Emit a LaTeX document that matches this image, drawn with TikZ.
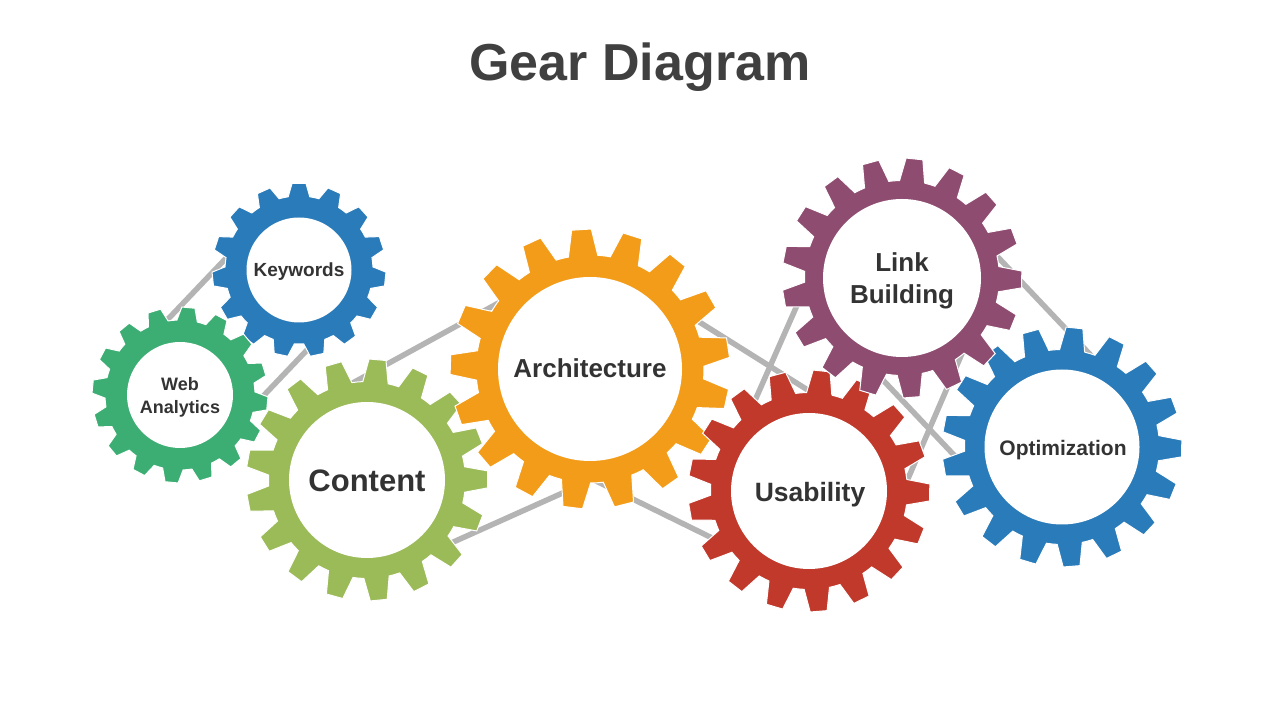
\documentclass[tikz,border=0pt]{standalone}
\usepackage{fontspec}
\setmainfont{Liberation Sans}
\usetikzlibrary{calc}
\definecolor{kwblue}{HTML}{2A7BB9}
\definecolor{wagreen}{HTML}{3DAE73}
\definecolor{ctgreen}{HTML}{9BBB59}
\definecolor{arorange}{HTML}{F39C1A}
\definecolor{usred}{HTML}{C0392B}
\definecolor{lbpurple}{HTML}{8F4C71}
\definecolor{beltgray}{HTML}{B4B4B4}
\definecolor{labelgray}{HTML}{333333}
\definecolor{titlegray}{HTML}{404040}
% #1 centre, #2 teeth, #3 tip radius, #4 root radius, #5 offset angle, #6 colour, #7 inner radius
\newcommand\drawgear[7]{%
  \begin{scope}[shift={(#1)}]
    \pgfmathsetmacro\gp{360/#2}
    \pgfmathsetmacro\gt{0.19*\gp}
    \pgfmathsetmacro\gr{0.35*\gp}
    \pgfmathtruncatemacro\gnm{#2-1}
    \fill[#6, draw=white, line width=1pt] ({#5-\gr}:#4)
      \foreach \k in {0,...,\gnm} {
        -- ({#5+\k*\gp-\gt}:#3) -- ({#5+\k*\gp+\gt}:#3) -- ({#5+\k*\gp+\gr}:#4)
        arc[start angle={#5+\k*\gp+\gr}, end angle={#5+(\k+1)*\gp-\gr}, radius=#4]
      } -- cycle;
    \fill[white] (0,0) circle[radius=#7];
  \end{scope}}
\begin{document}
\begin{tikzpicture}[x=1pt,y=1pt,
  belt/.style={draw=beltgray, line width=5.5pt},
  lbl/.style={text=labelgray, align=center, inner sep=0pt, font=\bfseries},
  titletext/.style={text=titlegray, inner sep=0pt, font=\bfseries\fontsize{52}{60}\selectfont}]
\useasboundingbox (0,0) rectangle (1280,720);
\fill[white] (0,0) rectangle (1280,720);

\coordinate (kw) at (299,450);
\coordinate (wa) at (180,325);
\coordinate (ct) at (367,240);
\coordinate (ar) at (590,351);
\coordinate (lb) at (902,442);
\coordinate (us) at (809,229);
\coordinate (op) at (1062,273);

\node[titletext] (title) at (640,652.5) {Gear Diagram};

% belts (behind the gears)
\draw[belt] ($(wa)!61pt!90:(kw)$) -- ($(kw)!61pt!-90:(wa)$);
\draw[belt] ($(wa)!61pt!-90:(kw)$) -- ($(kw)!61pt!90:(wa)$);
\draw[belt] ($(ct)!92pt!90:(ar)$) -- ($(ar)!102pt!-90:(ct)$);
\draw[belt] ($(ct)!92pt!-90:(ar)$) -- ($(ar)!102pt!90:(ct)$);
\draw[belt] ($(ar)!98pt!90:(us)$) -- ($(us)!85pt!-90:(ar)$);
\draw[belt] ($(ar)!98pt!-90:(us)$) -- ($(us)!85pt!90:(ar)$);
\draw[belt] ($(us)!86pt!90:(lb)$) -- ($(lb)!85pt!-90:(us)$);
\draw[belt] ($(us)!86pt!-90:(lb)$) -- ($(lb)!85pt!90:(us)$);
\draw[belt] ($(lb)!84pt!90:(op)$) -- ($(op)!84pt!-90:(lb)$);
\draw[belt] ($(lb)!84pt!-90:(op)$) -- ($(op)!84pt!90:(lb)$);

% gears
\drawgear{kw}{15}{87}{74}{90}{kwblue}{52.5}
\drawgear{wa}{16}{88}{75}{84.5}{wagreen}{53}
\drawgear{ct}{17}{121}{98.5}{85}{ctgreen}{78}
\drawgear{ar}{17}{140}{114}{93.5}{arorange}{92}
\drawgear{us}{17}{121}{98.5}{84}{usred}{78}
\drawgear{op}{17}{120}{97.5}{84}{kwblue}{77.5}
\drawgear{lb}{17}{120}{97.5}{84}{lbpurple}{79}

% labels
\node[lbl, font=\bfseries\fontsize{19}{23}\selectfont] (kwl) at (299,448) {Keywords};
\node[lbl, font=\bfseries\fontsize{18}{23}\selectfont] (wal) at (180,323) {Web\\Analytics};
\node[lbl, font=\bfseries\fontsize{31}{36}\selectfont] (ctl) at (367,239) {Content};
\node[lbl, font=\bfseries\fontsize{26}{32}\selectfont] (arl) at (590,351.5) {Architecture};
\node[lbl, font=\bfseries\fontsize{26.5}{32}\selectfont] (usl) at (810,225) {Usability};
\node[lbl, font=\bfseries\fontsize{21}{25}\selectfont] (opl) at (1063,270) {Optimization};
\node[lbl, font=\bfseries\fontsize{26}{32}\selectfont] (lbl) at (902,439) {Link\\Building};
\end{tikzpicture}
\end{document}
